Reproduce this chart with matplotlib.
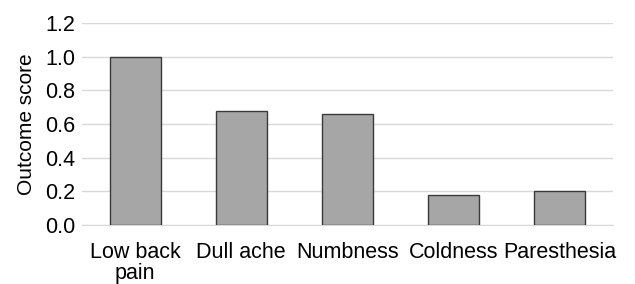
import matplotlib.pyplot as plt

plt.rcParams['font.family'] = ['Liberation Sans', 'DejaVu Sans']

categories = ["Low back\npain", "Dull ache", "Numbness", "Coldness", "Paresthesia"]
scores = [1.0, 0.68, 0.66, 0.18, 0.20]
yticks = [0.0, 0.2, 0.4, 0.6, 0.8, 1.0, 1.2]

fig = plt.figure(figsize=(6.35, 2.84), dpi=100)
ax = fig.add_axes([82/635, 1 - 225/284, 531/635, 202/284])

x = range(len(categories))
ax.bar(x, scores, width=0.48, color="#a6a6a6", edgecolor="#3a3a3a", linewidth=1, zorder=3)

ax.set_xlim(-0.5, len(categories) - 0.5)
ax.set_ylim(0, 1.2)
ax.set_yticks(yticks)
ax.set_yticklabels([f"{v:.1f}" for v in yticks], fontsize=15.5)
ax.set_xticks(list(x))
ax.set_xticklabels(categories, fontsize=15.5, linespacing=1.05)
ax.set_ylabel("Outcome score", fontsize=15, labelpad=6)

ax.grid(axis="y", color="#d9d9d9", linewidth=1, zorder=0)
ax.tick_params(axis="x", length=0, pad=12)
ax.tick_params(axis="y", length=0, pad=5)
for s in ["top", "right", "left"]:
    ax.spines[s].set_visible(False)
ax.spines["bottom"].set_color("#d9d9d9")

fig.savefig("out.png", dpi=100)
